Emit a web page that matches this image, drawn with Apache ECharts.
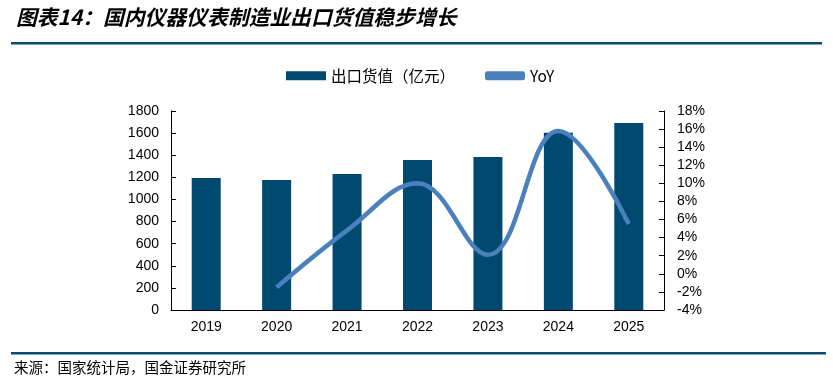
<!DOCTYPE html>
<html><head><meta charset="utf-8">
<script src="https://cdn.jsdelivr.net/npm/echarts@6/dist/echarts.min.js"></script>
<style>html,body{margin:0;padding:0;background:#fff}#c{width:833px;height:386px}</style>
</head><body><div id="c"></div>
<script>
const categories = ['2019','2020','2021','2022','2023','2024','2025'];
const exportValue = [1195, 1177, 1230, 1357, 1384, 1604, 1691];
const yoy = [null, -1.5, 4.8, 10.0, 2.1, 15.8, 5.5];
const leftTicks = [0, 1800, 200];
const rightTicks = [-4, 18, 2];

const chart = echarts.init(document.getElementById('c'));
const font = '"Liberation Sans", Arial, sans-serif';
const cjk = '"Noto Sans CJK SC", sans-serif';
chart.setOption({
  animation: false,
  grid: {left: 171, right: 169, top: 111, bottom: 76},
  legend: {
    top: 63, left: 281, itemGap: 30,
    textStyle: {fontSize: 15.5, color: '#000', fontFamily: cjk},
    data: [
      {name: '出口货值（亿元）', icon: 'rect', itemStyle: {color: '#004a72'}},
      {name: 'YoY', icon: 'roundRect'}
    ],
    itemWidth: 40, itemHeight: 9
  },
  xAxis: {
    type: 'category', data: categories,
    axisLine: {lineStyle: {color: '#000', width: 1}},
    axisTick: {inside: true, length: 5, lineStyle: {color: '#000'}},
    axisLabel: {fontSize: 14, color: '#000', fontFamily: font, margin: 10}
  },
  yAxis: [
    {type: 'value', min: leftTicks[0], max: leftTicks[1], interval: leftTicks[2],
     axisLine: {show: true, lineStyle: {color: '#000'}},
     axisTick: {show: true, inside: true, length: 5, lineStyle: {color: '#000'}},
     splitLine: {show: false},
     axisLabel: {fontSize: 14, color: '#000', fontFamily: font, margin: 12, formatter: v => String(v)}},
    {type: 'value', min: rightTicks[0], max: rightTicks[1], interval: rightTicks[2],
     axisLine: {show: true, lineStyle: {color: '#000'}},
     axisTick: {show: true, inside: true, length: 5, lineStyle: {color: '#000'}},
     splitLine: {show: false},
     axisLabel: {fontSize: 14, color: '#000', fontFamily: font, margin: 13, formatter: v => v + '%'}}
  ],
  series: [
    {name: '出口货值（亿元）', type: 'bar', data: exportValue, barWidth: 29,
     itemStyle: {color: '#004a72'}},
    {name: 'YoY', type: 'line', yAxisIndex: 1, data: yoy, smooth: 0.4,
     showSymbol: false, connectNulls: false,
     lineStyle: {color: '#4a81bd', width: 4.5}, itemStyle: {color: '#4a81bd'}}
  ],
  graphic: [
    {type: 'text', left: 16, top: 7, style: {text: '图表14：国内仪器仪表制造业出口货值稳步增长', fill: '#000', font: 'italic bold 20.8px "Noto Sans CJK SC", sans-serif'}},
    {type: 'rect', shape: {x: 11, y: 42, width: 811, height: 2.5}, style: {fill: '#0d4a70'}},
    {type: 'rect', shape: {x: 11, y: 352, width: 815, height: 2.5}, style: {fill: '#0d4a70'}},
    {type: 'text', left: 14, top: 360, style: {text: '来源：国家统计局，国金证券研究所', font: '14.5px "Noto Sans CJK SC", sans-serif', fill: '#000'}}
  ]
});
</script></body></html>
